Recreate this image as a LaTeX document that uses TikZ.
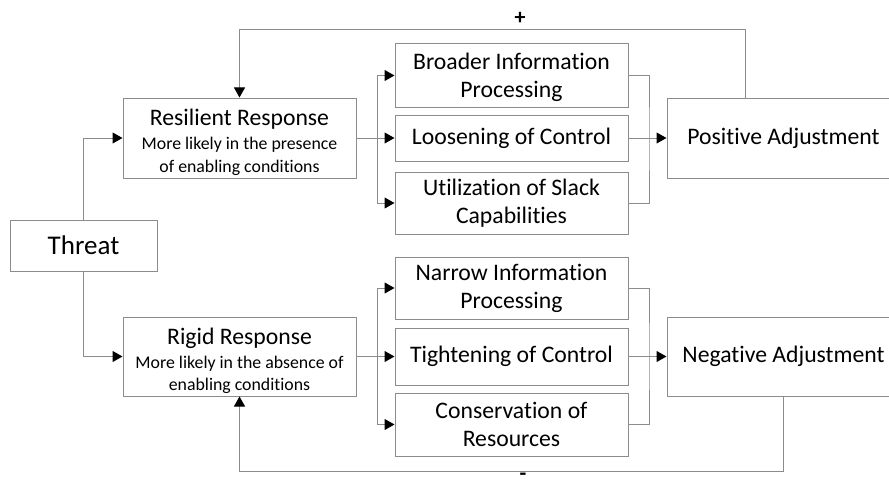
\documentclass[tikz,border=0pt]{standalone}
\usepackage{fontspec}
\setmainfont[Ligatures=NoCommon]{Carlito}
\usetikzlibrary{arrows.meta}
\definecolor{linegray}{HTML}{8C8C8C}
\tikzset{
  box/.style={draw=linegray, line width=1pt, minimum width=233pt, align=center,
              inner sep=0pt, font=\fontsize{23.7}{28}\selectfont},
  link/.style={draw=linegray, line width=1pt},
  arr/.style={link, -{Triangle[length=10pt,width=11pt,color=black]}},
  sign/.style={font=\bfseries\fontsize{22}{24}\selectfont, inner sep=0pt}
}
\newcommand{\subtxt}[1]{{\fontsize{17.8}{21}\selectfont #1}}
\newcommand{\topstrut}{\rule{0pt}{25.5pt}}
\begin{document}
\begin{tikzpicture}[x=1pt,y=-1pt]
\useasboundingbox (0,0) rectangle (889,487);
\clip (0,0) rectangle (889,487);

% left column
\node[box, minimum width=147pt, minimum height=51pt, font=\fontsize{27}{30}\selectfont]
  (threat) at (83.5,245.5) {Threat};
\node[box, minimum height=80pt] (res) at (239.5,138)
  {\topstrut Resilient Response\\[-4pt]\subtxt{More likely in the presence}\\[-5.5pt]\subtxt{of enabling conditions}};
\node[box, minimum height=79pt] (rig) at (239.5,356.5)
  {\topstrut Rigid Response\\[-4pt]\subtxt{More likely in the absence of}\\[-5.5pt]\subtxt{enabling conditions}};

% middle column, upper branch
\node[box, minimum height=63pt] (b1) at (511.5,75.5) {\rule{0pt}{21pt}Broader Information\\Processing};
\node[box, minimum height=46pt] (b2) at (511.5,138) {Loosening of Control};
\node[box, minimum height=62pt] (b3) at (511.5,203) {Utilization of Slack\\Capabilities};

% middle column, lower branch
\node[box, minimum height=62pt] (n1) at (511.5,288) {Narrow Information\\Processing};
\node[box, minimum height=57pt] (n2) at (511.5,356.5) {Tightening of Control};
\node[box, minimum height=63pt] (n3) at (511.5,424.5) {Conservation of\\Resources};

% outcomes
\node[box, minimum height=80pt] (pos) at (783.5,138) {Positive Adjustment};
\node[box, minimum height=79pt] (neg) at (783.5,356.5) {Negative Adjustment};

% junction points
\coordinate (sr) at (377,138);
\coordinate (jr) at (649,138);
\coordinate (sg) at (377,356.5);
\coordinate (jg) at (649,356.5);
\coordinate (ptop) at (239.5,30);
\coordinate (pfb) at (745,30);
\coordinate (nbot) at (239.5,471);

% threat to responses
\draw[arr] (threat.north) |- (res.west);
\draw[arr] (threat.south) |- (rig.west);

% resilient fan-out and merge
\draw[link] (res.east) -- (sr);
\draw[arr] (sr) |- (b1.west);
\draw[arr] (sr) -- (b2.west);
\draw[arr] (sr) |- (b3.west);
\draw[link] (b1.east) -| (jr) |- (b3.east);
\draw[link] (b2.east) -- (jr);
\draw[arr] (jr) -- (pos.west);

% rigid fan-out and merge
\draw[link] (rig.east) -- (sg);
\draw[arr] (sg) |- (n1.west);
\draw[arr] (sg) -- (n2.west);
\draw[arr] (sg) |- (n3.west);
\draw[link] (n1.east) -| (jg) |- (n3.east);
\draw[link] (n2.east) -- (jg);
\draw[arr] (jg) -- (neg.west);

% feedback loops
\draw[arr] (pos.north -| pfb) -- (pfb) -- (ptop) -- (res.north);
\draw[arr] (neg.south) |- (nbot) -- (rig.south);
\node[sign] (plus) at (520,18) {+};
\node[sign] (minus) at (523,477) {-};
\end{tikzpicture}
\end{document}
